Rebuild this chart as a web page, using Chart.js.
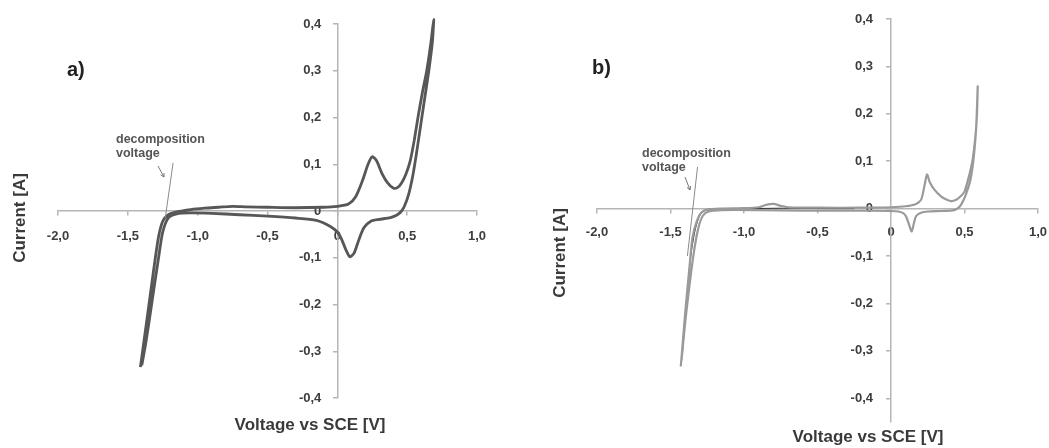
<!DOCTYPE html>
<html>
<head>
<meta charset="utf-8">
<script src="https://cdn.jsdelivr.net/npm/chart.js@4.4.1/dist/chart.umd.min.js"></script>
<style>
  html, body { margin: 0; padding: 0; background: #fff; overflow: hidden; }
  #wrap { position: relative; width: 1049px; height: 448px; overflow: hidden; }
  canvas { position: absolute; top: 0; }
  #cv-a { left: 0; }
  #cv-b { left: 525px; }
</style>
</head>
<body>
<div id="wrap">
  <canvas id="cv-a" width="525" height="448"></canvas>
  <canvas id="cv-b" width="535" height="448"></canvas>
</div>
<script>
// tick values shared by both voltammograms
const voltageTicks = [-2, -1.5, -1, -0.5, 0, 0.5, 1];
const currentTicks = [-0.4, -0.3, -0.2, -0.1, 0, 0.1, 0.2, 0.3, 0.4];

// a) one cycle: anodic sweep up to 0.69 V, then back down to -1.40 V
const voltageA = [
  -1.41, -1.36, -1.31, -1.28, -1.25, -1.21, -1.15, -1.05, -0.95, -0.85, -0.75, -0.65, -0.50, -0.30, -0.10,
  0.00, 0.08, 0.13, 0.18, 0.22, 0.25, 0.28, 0.32, 0.36, 0.40, 0.43, 0.46, 0.49, 0.52, 0.55, 0.58, 0.61, 0.64, 0.67, 0.69,
  0.68, 0.655, 0.625, 0.595, 0.565, 0.54, 0.51, 0.48, 0.46, 0.43, 0.38, 0.30, 0.24, 0.19, 0.15, 0.12, 0.09, 0.06, 0.03,
  0.00, -0.05, -0.15, -0.30, -0.50, -0.70, -0.90, -1.05, -1.15, -1.21, -1.25, -1.28, -1.33, -1.37, -1.40
];
const currentA = [
  -0.334, -0.225, -0.115, -0.055, -0.022, -0.008, -0.002, 0.003, 0.006, 0.008, 0.010, 0.009, 0.008, 0.007, 0.008,
  0.010, 0.015, 0.030, 0.065, 0.100, 0.116, 0.108, 0.080, 0.060, 0.049, 0.050, 0.060, 0.078, 0.105, 0.150, 0.205, 0.255, 0.300, 0.360, 0.410,
  0.360, 0.300, 0.240, 0.180, 0.120, 0.075, 0.035, 0.010, 0.000, -0.008, -0.014, -0.018, -0.022, -0.036, -0.065, -0.090, -0.098, -0.082, -0.060,
  -0.045, -0.033, -0.020, -0.015, -0.011, -0.008, -0.005, -0.004, -0.006, -0.015, -0.045, -0.100, -0.200, -0.280, -0.330
];
const tangentVoltageA = [-1.176, -1.232];
const tangentCurrentA = [0.103, -0.015];

// b) one cycle, light trace
const voltageB = [
  -1.43, -1.40, -1.37, -1.35, -1.32, -1.29, -1.25, -1.15, -1.00, -0.90, -0.85, -0.80, -0.75, -0.70, -0.50, -0.20,
  0.00, 0.10, 0.17, 0.205, 0.227, 0.245, 0.265, 0.295, 0.34, 0.38, 0.41, 0.44, 0.47, 0.50, 0.53, 0.555, 0.57, 0.58, 0.59,
  0.585, 0.575, 0.56, 0.54, 0.51, 0.48, 0.46, 0.43, 0.35, 0.25, 0.20, 0.17, 0.155, 0.141, 0.125, 0.102, 0.08, 0.05,
  0.00, -0.30, -0.60, -0.90, -1.15, -1.24, -1.28, -1.31, -1.34, -1.37, -1.40, -1.425
];
const currentB = [
  -0.333, -0.220, -0.120, -0.060, -0.025, -0.008, -0.002, 0.000, 0.001, 0.003, 0.008, 0.010, 0.006, 0.003, 0.002, 0.002,
  0.003, 0.005, 0.010, 0.019, 0.047, 0.072, 0.055, 0.040, 0.026, 0.019, 0.016, 0.018, 0.025, 0.036, 0.068, 0.103, 0.140, 0.175, 0.258,
  0.200, 0.150, 0.100, 0.060, 0.030, 0.010, 0.002, -0.003, -0.005, -0.006, -0.009, -0.016, -0.032, -0.048, -0.036, -0.016, -0.009, -0.006,
  -0.005, -0.004, -0.004, -0.003, -0.003, -0.006, -0.015, -0.040, -0.090, -0.160, -0.240, -0.320
];
// b) darker repeat sweep, visible on the steep and flat parts (null = gap)
const voltageB2 = [-1.42, -1.39, -1.36, -1.33, -1.30, -1.26, -1.20, -1.00, -0.70, -0.40, -0.25, null, 0.50, 0.53, 0.555, 0.57];
const currentB2 = [-0.310, -0.190, -0.095, -0.042, -0.014, -0.003, 0.000, 0.000, 0.001, 0.000, 0.000, null, 0.036, 0.068, 0.103, 0.140];
const tangentVoltageB = [-1.316, -1.385];
const tangentCurrentB = [0.088, -0.100];

const FONT = '"Liberation Sans", Arial, sans-serif';
Chart.defaults.font.family = FONT;

function points(xs, ys) {
  return xs.map((x, i) => ({ x: x, y: ys[i] }));
}

function commaLabel(v) {
  return v === 0 ? '0' : v.toFixed(1).replace('.', ',');
}

// current labels sit left of the crossing y axis; drawn before the curves
function currentLabels(gap) {
  return {
    id: 'currentLabels',
    beforeDatasetsDraw(chart) {
      const ctx = chart.ctx;
      const xs = chart.scales.x, ys = chart.scales.y;
      const x0 = xs.getPixelForValue(0) - gap;
      ctx.save();
      ctx.fillStyle = '#3d3d3d';
      ctx.font = 'bold 13px ' + FONT;
      ctx.textAlign = 'right';
      ctx.textBaseline = 'middle';
      currentTicks.forEach(v => ctx.fillText(commaLabel(v), x0, ys.getPixelForValue(v)));
      ctx.restore();
    }
  };
}

// axis titles, panel letter and the "decomposition voltage" note
function panelText(t) {
  return {
    id: 'panelText',
    afterDraw(chart) {
      const ctx = chart.ctx;
      ctx.save();
      ctx.fillStyle = '#3a3a3a';
      ctx.textAlign = 'center';
      ctx.textBaseline = 'middle';
      ctx.font = 'bold 17px ' + FONT;
      ctx.fillText('Voltage vs SCE [V]', t.xTitle[0], t.xTitle[1]);
      ctx.save();
      ctx.translate(t.yTitle[0], t.yTitle[1]);
      ctx.rotate(-Math.PI / 2);
      ctx.fillText('Current [A]', 0, 0);
      ctx.restore();

      ctx.textAlign = 'left';
      ctx.fillStyle = '#222';
      ctx.font = 'bold 20px ' + FONT;
      ctx.fillText(t.letter, t.letterPos[0], t.letterPos[1]);

      ctx.fillStyle = '#555';
      ctx.font = 'bold 12.5px ' + FONT;
      ctx.fillText('decomposition', t.note[0], t.note[1]);
      ctx.fillText('voltage', t.note[0], t.note[1] + 14);

      // little pointer from the note to the tangent
      const [x1, y1, x2, y2] = t.arrow;
      ctx.strokeStyle = '#777';
      ctx.lineWidth = 1;
      ctx.beginPath();
      ctx.moveTo(x1, y1);
      ctx.lineTo(x2, y2);
      const a = Math.atan2(y2 - y1, x2 - x1);
      ctx.moveTo(x2, y2);
      ctx.lineTo(x2 - 4 * Math.cos(a - 0.5), y2 - 4 * Math.sin(a - 0.5));
      ctx.moveTo(x2, y2);
      ctx.lineTo(x2 - 4 * Math.cos(a + 0.5), y2 - 4 * Math.sin(a + 0.5));
      ctx.stroke();
      ctx.restore();
    }
  };
}

function makeChart(id, datasets, padding, yMin, text, xLabelPad, yLabelGap) {
  return new Chart(document.getElementById(id), {
    type: 'scatter',
    data: { datasets: datasets },
    options: {
      responsive: false,
      animation: false,
      layout: { padding: padding },
      plugins: { legend: { display: false }, tooltip: { enabled: false } },
      scales: {
        x: {
          type: 'linear',
          min: -2, max: 1,
          position: { y: 0 },
          afterBuildTicks: axis => { axis.ticks = voltageTicks.map(v => ({ value: v })); },
          grid: { display: true, drawOnChartArea: false, drawTicks: true, tickLength: 4, color: '#b5b5b5', lineWidth: 1.5 },
          border: { display: true, color: '#b5b5b5', width: 1.5 },
          ticks: {
            padding: xLabelPad,
            maxRotation: 0,
            autoSkip: false,
            color: '#3d3d3d',
            font: { size: 13, weight: 'bold' },
            callback: v => commaLabel(v)
          }
        },
        y: {
          type: 'linear',
          min: yMin, max: 0.4,
          position: { x: 0 },
          afterBuildTicks: axis => { axis.ticks = currentTicks.map(v => ({ value: v })); },
          grid: { display: true, drawOnChartArea: false, drawTicks: true, tickLength: 4, color: '#b5b5b5', lineWidth: 1.5 },
          border: { display: true, color: '#b5b5b5', width: 1.5 },
          ticks: { display: false }
        }
      }
    },
    plugins: [currentLabels(yLabelGap), panelText(text)]
  });
}

function line(data, color, width, tension) {
  return {
    data: data,
    showLine: true,
    borderColor: color,
    borderWidth: width,
    pointRadius: 0,
    tension: tension,
    spanGaps: false,
    clip: false
  };
}

makeChart('cv-a', [
  line(points(tangentVoltageA, tangentCurrentA), '#8a8a8a', 1, 0),
  line(points(voltageA, currentA), '#575757', 2.8, 0.25)
], { left: 58, right: 48, top: 24, bottom: 50 }, -0.4, {
  xTitle: [310, 425], yTitle: [20, 218],
  letter: 'a)', letterPos: [67, 70],
  note: [116, 140], arrow: [158, 166, 164, 177]
}, 14, 16);

makeChart('cv-b', [
  line(points(tangentVoltageB, tangentCurrentB), '#8a8a8a', 1, 0),
  line(points(voltageB, currentB), '#9a9a9a', 2.2, 0.25),
  line(points(voltageB2, currentB2), '#2e2e2e', 1, 0.25)
], { left: 72, right: 22, top: 19, bottom: 26 }, -0.45, {
  xTitle: [343, 437], yTitle: [35, 253],
  letter: 'b)', letterPos: [67, 68],
  note: [117, 154], arrow: [160, 177, 165, 190]
}, 12, 18);
</script>
</body>
</html>
